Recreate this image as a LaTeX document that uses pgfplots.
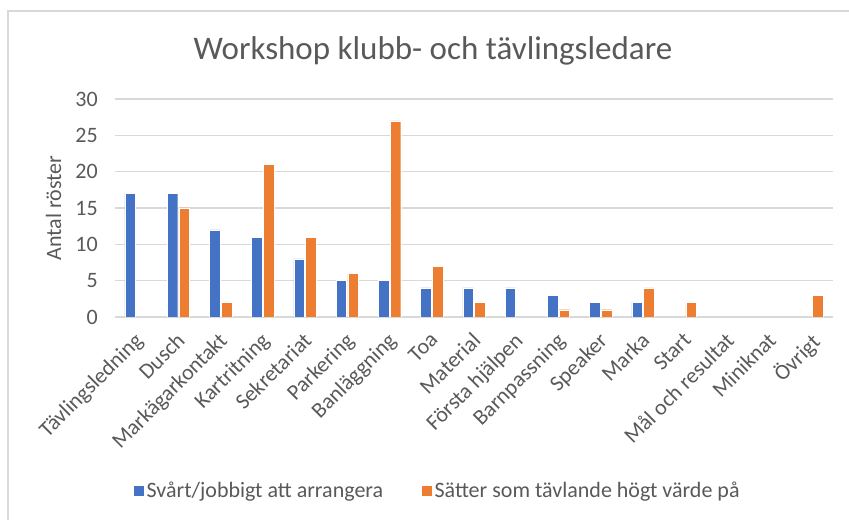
\documentclass[border=0pt]{standalone}
\usepackage{fontspec}
\setmainfont{Carlito}
\usepackage{pgfplots}
\pgfplotsset{compat=1.18}
\definecolor{xlblue}{HTML}{4472C4}
\definecolor{xlorange}{HTML}{ED7D31}
\definecolor{xlgrid}{HTML}{D9D9D9}
\definecolor{xltext}{HTML}{595959}
\begin{document}
\begin{tikzpicture}
\path[use as bounding box] (0bp,0bp) rectangle (849bp,520bp);
\draw[xlgrid, line width=1.5bp] (8bp,-5bp) -- (8bp,509bp) -- (860bp,509bp);
\node[anchor=base, text=xltext, font=\fontsize{33bp}{39bp}\selectfont] at (433bp,460bp) {Workshop klubb- och tävlingsledare};
\node[anchor=base, rotate=90, text=xltext, font=\fontsize{22bp}{26bp}\selectfont] at (61bp,312bp) {Antal röster};
\begin{axis}[
  at={(115bp,203bp)}, anchor=south west,
  scale only axis, width=718bp, height=218bp,
  ymin=0, ymax=30, ytick={0,5,...,30},
  xmin=-0.5, xmax=16.5,
  xtick={0,...,16},
  xticklabels={Tävlingsledning,Dusch,Markägarkontakt,Kartritning,Sekretariat,Parkering,Banläggning,Toa,Material,Första hjälpen,Barnpassning,Speaker,Marka,Start,Mål och resultat,Miniknat,Övrigt},
  axis line style={draw=none}, major tick length=0pt,
  ymajorgrids, grid style={xlgrid, line width=1.5bp},
  /pgf/number format/assume math mode=true,
  ticklabel style={font=\fontsize{22bp}{26bp}\selectfont, text=xltext},
  yticklabel style={anchor=east, inner sep=0pt, xshift=-17bp},
  xticklabel style={xshift=-3bp, yshift=-14bp, rotate=45, anchor=north east, inner sep=0pt},
  legend style={at={(0.449,-0.794)}, anchor=center, draw=none, fill=none,
    legend columns=2, font=\fontsize{22bp}{26bp}\selectfont, text=xltext,
    /tikz/every even column/.append style={column sep=36bp}},
  mybar/.style={ybar, bar width=0.25, draw=white, line width=0.4bp,
    legend image code/.code={\fill[##1] (-3bp,-6bp) rectangle (8bp,5bp);}},
]
\addplot[mybar, bar shift=-0.14, fill=xlblue] coordinates {
 (0,17) (1,17) (2,12) (3,11) (4,8) (5,5) (6,5) (7,4) (8,4) (9,4) (10,3) (11,2) (12,2)};
\addplot[mybar, bar shift=0.14, fill=xlorange] coordinates {
 (1,15) (2,2) (3,21) (4,11) (5,6) (6,27) (7,7) (8,2) (10,1) (11,1) (12,4) (13,2) (16,3)};
\legend{Svårt/jobbigt att arrangera, Sätter som tävlande högt värde på}
\end{axis}
\end{tikzpicture}
\end{document}
